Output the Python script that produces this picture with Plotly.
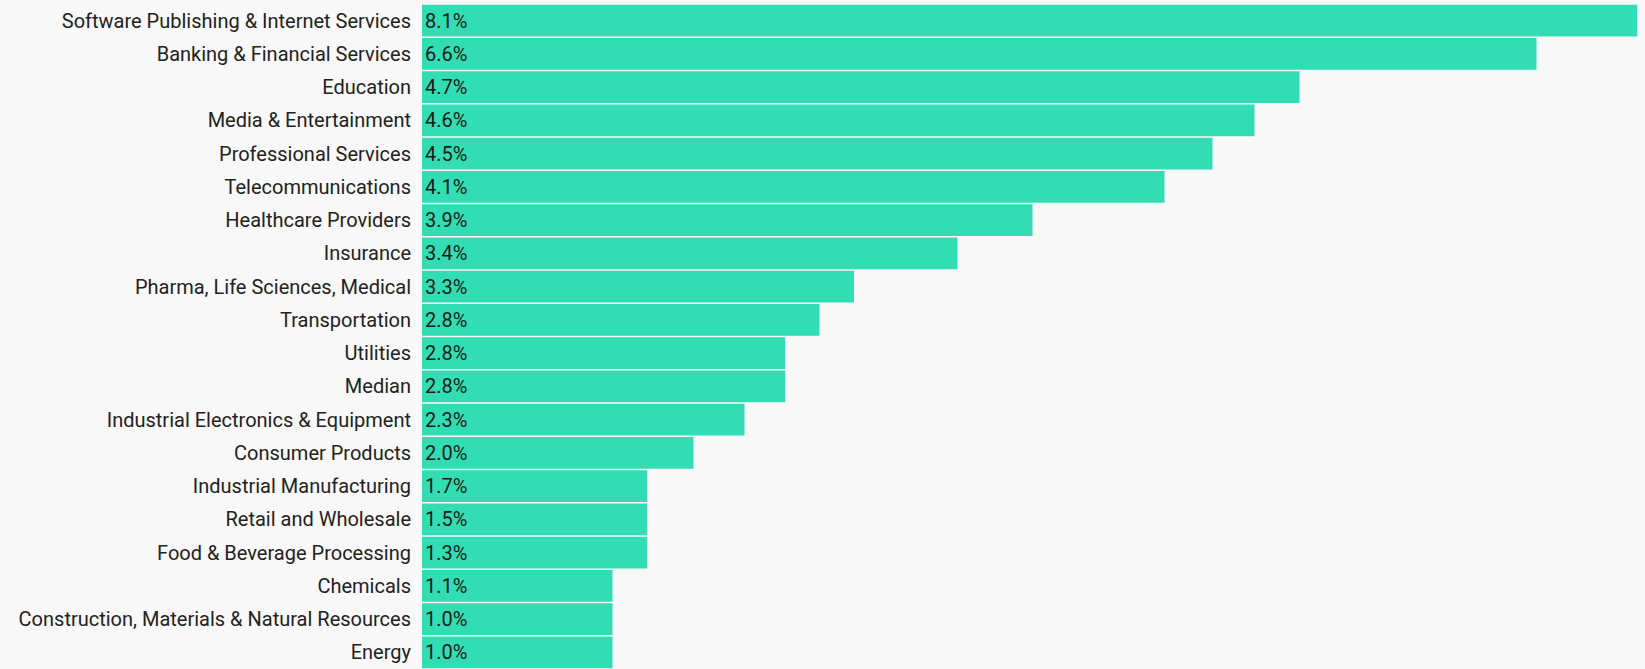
import plotly.graph_objects as go

categories = [
    "Software Publishing & Internet Services",
    "Banking & Financial Services",
    "Education",
    "Media & Entertainment",
    "Professional Services",
    "Telecommunications",
    "Healthcare Providers",
    "Insurance",
    "Pharma, Life Sciences, Medical",
    "Transportation",
    "Utilities",
    "Median",
    "Industrial Electronics & Equipment",
    "Consumer Products",
    "Industrial Manufacturing",
    "Retail and Wholesale",
    "Food & Beverage Processing",
    "Chemicals",
    "Construction, Materials & Natural Resources",
    "Energy",
]

# bar lengths as drawn
bar_values = [8.10, 7.43, 5.85, 5.55, 5.27, 4.95, 4.07, 3.57, 2.88, 2.65,
              2.42, 2.42, 2.15, 1.81, 1.50, 1.50, 1.50, 1.27, 1.27, 1.27]

# labels printed on bars
label_texts = ["8.1%", "6.6%", "4.7%", "4.6%", "4.5%", "4.1%", "3.9%", "3.4%", "3.3%", "2.8%",
               "2.8%", "2.8%", "2.3%", "2.0%", "1.7%", "1.5%", "1.3%", "1.1%", "1.0%", "1.0%"]

FONT = "Roboto"

fig = go.Figure(go.Bar(
    x=bar_values,
    y=categories,
    orientation="h",
    text=label_texts,
    textposition="inside",
    insidetextanchor="start",
    textfont=dict(family=FONT, size=20, color="#1a1a1a"),
    constraintext="none",
    marker=dict(color="#33ddb3", line=dict(width=0)),
    hoverinfo="skip",
))

fig.update_layout(
    width=1645,
    height=669,
    margin=dict(l=422, r=8, t=4, b=0),
    paper_bgcolor="#f8f8f8",
    plot_bgcolor="#f8f8f8",
    bargap=0.04,
    showlegend=False,
    font=dict(family=FONT, size=20, color="#222222"),
    xaxis=dict(visible=False, range=[0, 8.1], fixedrange=True),
    yaxis=dict(
        autorange="reversed",
        showgrid=False,
        zeroline=False,
        showline=False,
        ticks="",
        ticklabelstandoff=10,
        tickfont=dict(family=FONT, size=20, color="#222222"),
    ),
)

fig.write_html("out.html")
